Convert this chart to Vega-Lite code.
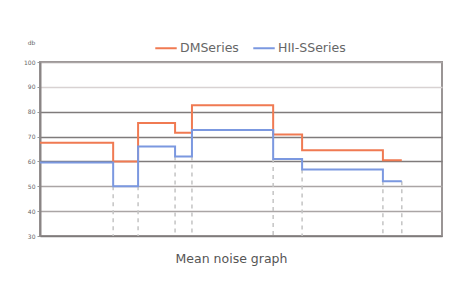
{
  "$schema": "https://vega.github.io/schema/vega-lite/v6.json",
  "width": 402,
  "height": 174,
  "autosize": {"type": "none"},
  "padding": {"left": 40, "top": 62, "right": 16, "bottom": 49},
  "background": "white",
  "config": {
    "view": {"stroke": "#9a9595", "strokeWidth": 2},
    "font": "DejaVu Sans"
  },
  "datasets": {
    "steps": [
      {"x": 0, "value": 67.5, "series": "DMSeries"},
      {"x": 18.2, "value": 60, "series": "DMSeries"},
      {"x": 24.4, "value": 75.5, "series": "DMSeries"},
      {"x": 33.6, "value": 71.5, "series": "DMSeries"},
      {"x": 37.8, "value": 82.6, "series": "DMSeries"},
      {"x": 58.0, "value": 70.8, "series": "DMSeries"},
      {"x": 65.2, "value": 64.5, "series": "DMSeries"},
      {"x": 85.3, "value": 60.5, "series": "DMSeries"},
      {"x": 90.0, "value": 60.5, "series": "DMSeries"},
      {"x": 0, "value": 59.6, "series": "HII-SSeries"},
      {"x": 18.2, "value": 50, "series": "HII-SSeries"},
      {"x": 24.4, "value": 66, "series": "HII-SSeries"},
      {"x": 33.6, "value": 62, "series": "HII-SSeries"},
      {"x": 37.8, "value": 72.6, "series": "HII-SSeries"},
      {"x": 58.0, "value": 61, "series": "HII-SSeries"},
      {"x": 65.2, "value": 56.8, "series": "HII-SSeries"},
      {"x": 85.3, "value": 52, "series": "HII-SSeries"},
      {"x": 90.0, "value": 52, "series": "HII-SSeries"}
    ],
    "cuts": [
      {"x": 18.2, "low": 50},
      {"x": 24.4, "low": 50},
      {"x": 33.6, "low": 62},
      {"x": 37.8, "low": 62},
      {"x": 58.0, "low": 61},
      {"x": 65.2, "low": 56.8},
      {"x": 85.3, "low": 52},
      {"x": 90.0, "low": 52}
    ]
  },
  "layer": [
    {
      "data": {"name": "cuts"},
      "mark": {"type": "rule", "strokeDash": [4, 4], "color": "#c4c4c4", "strokeWidth": 1.5},
      "encoding": {
        "x": {"field": "x", "type": "quantitative", "scale": {"domain": [0, 100], "nice": false}},
        "y": {"field": "low", "type": "quantitative", "scale": {"domain": [30, 100], "nice": false}},
        "y2": {"datum": 30}
      }
    },
    {
      "data": {"name": "steps"},
      "mark": {"type": "line", "interpolate": "step-after", "strokeWidth": 2},
      "encoding": {
        "x": {
          "field": "x", "type": "quantitative",
          "scale": {"domain": [0, 100], "nice": false},
          "axis": {
            "labels": false, "ticks": false, "domain": false, "grid": false,
            "title": "Mean noise graph", "titleFontSize": 12.5, "titleFontWeight": "normal",
            "titleColor": "#555555", "titleX": 191, "titleY": 22, "titleAlign": "center",
            "titleBaseline": "middle"
          }
        },
        "y": {
          "field": "value", "type": "quantitative",
          "scale": {"domain": [30, 100], "nice": false},
          "axis": {
            "values": [30, 40, 50, 60, 70, 80, 90, 100],
            "tickCount": 10,
            "labelOverlap": false,
            "labelFontSize": 6, "labelColor": "#666666", "labelPadding": 2,
            "tickSize": 3, "tickColor": "#999999", "domainColor": "#8a8585", "domainWidth": 2,
            "grid": true, "gridWidth": 1.5,
            "gridColor": {
              "condition": [
                {"test": "datum.value === 90", "value": "#d8d2d2"},
                {"test": "datum.value === 100 || datum.value === 50 || datum.value === 40", "value": "#aaa5a5"}
              ],
              "value": "#7f7b7b"
            },
            "title": "db", "titleAngle": 0, "titleFontSize": 6, "titleFontWeight": "normal",
            "titleColor": "#666666", "titleX": -9, "titleY": -17, "titleAlign": "center"
          }
        },
        "color": {
          "field": "series", "type": "nominal",
          "scale": {"domain": ["DMSeries", "HII-SSeries"], "range": ["#f07a52", "#7b98e0"]},
          "legend": {
            "orient": "none", "legendX": 114, "legendY": -26, "direction": "horizontal",
            "title": null, "symbolType": "stroke", "symbolStrokeWidth": 2, "symbolSize": 460,
            "labelFontSize": 12.5, "labelColor": "#666666", "columnPadding": 10, "labelOffset": 2
          }
        }
      }
    }
  ]
}
